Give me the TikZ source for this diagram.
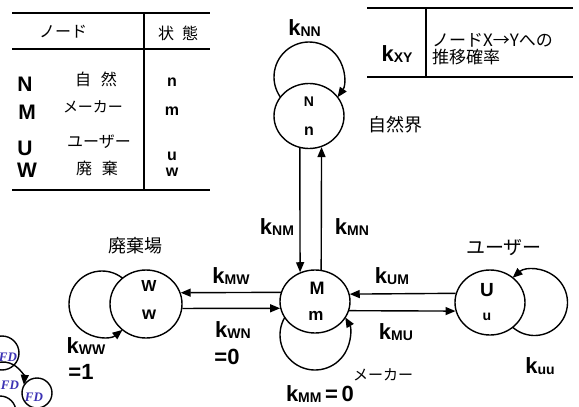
\documentclass[tikz,border=0pt]{standalone}
\usepackage{fontspec}
\setmainfont{Liberation Sans}
\newfontfamily\jp{Noto Sans CJK JP}
\newfontfamily\fdf{Liberation Serif}
\usetikzlibrary{shapes.geometric,arrows.meta,calc}
\definecolor{fdblue}{RGB}{60,50,180}
\newcommand\ksub[1]{k\raisebox{-1.5pt}{\fontsize{14}{14}\selectfont\bfseries #1}}
\begin{document}
\begin{tikzpicture}[x=1pt,y=-1pt,
  nd/.style={ellipse,draw,line width=1.4pt,fill=white,inner sep=0pt,minimum width=70pt,minimum height=64pt},
  arr/.style={line width=1.4pt,-{Triangle[length=10pt,width=8pt]}},
  ln/.style={line width=1.4pt},
  tl/.style={line width=1.6pt},
  kl/.style={inner sep=0pt,font=\fontsize{22}{22}\selectfont\bfseries},
  jt/.style={inner sep=0pt,font=\jp\fontsize{#1}{#1}\selectfont},
  jt/.default=17,
  tb/.style={inner sep=0pt,font=\fontsize{#1}{#1}\selectfont\bfseries},
  tb/.default=17,
  fd/.style={inner sep=0pt,text=fdblue,font=\fdf\bfseries\itshape\fontsize{13}{13}\selectfont}
]
\useasboundingbox (0,0) rectangle (579,407);

% ---------- table (top left) ----------
\draw[tl] (12,13) -- (210,13);
\draw[tl] (12,49) -- (210,49);
\draw[tl] (12,190) -- (210,190);
\draw[tl] (144,13) -- (144,190);
\node[jt=16] (h1) at (63,32) {ノード};
\node[jt=16] (h2) at (178,33) {状\hspace{0.5em}態};
\node[tb=21] (rN) at (25,84) {N};
\node[tb=21] (rM) at (27,112) {M};
\node[tb=21] (rU) at (25,148) {U};
\node[tb=21] (rW) at (27,170) {W};
\node[jt=16] (jN) at (96,79) {自\hspace{0.6em}然};
\node[jt=15] (jM) at (93,107) {メーカー};
\node[jt=16] (jU) at (99,142) {ユーザー};
\node[jt=16] (jW) at (97,168) {廃\hspace{0.6em}棄};
\node[tb=16] (sn) at (172,82) {n};
\node[tb=16] (sm) at (172,111) {m};
\node[tb=16] (su) at (172,156) {u};
\node[tb=16] (sw) at (172,172) {w};

% ---------- legend box (top right) ----------
\draw[tl] (367,8) -- (573,8);
\draw[tl] (367,77) -- (573,77);
\draw[tl] (426,8) -- (426,77);
\node[kl] (kxy) at (397,54) {\ksub{XY}};
\node[jt=17,anchor=west] (lg1) at (432,40) {ノードX→Yへの};
\node[jt=17,anchor=west] (lg2) at (432,57) {推移確率};

% ---------- nodes ----------
\node[nd,minimum width=70pt,minimum height=65pt] (N) at (309,116) {};
\node[nd,minimum width=70pt,minimum height=63pt] (M) at (315,301.5) {};
\node[nd,minimum width=70pt,minimum height=65pt] (U) at (490,302.5) {};
\node[nd,minimum width=72pt,minimum height=68pt] (W) at (146,304) {};

\node[tb=14] (Nt) at (309,102) {N};
\node[tb=16] (Nb) at (309,131.5) {n};
\node[tb=18] (Mt) at (317,288) {M};
\node[tb=17] (Mb) at (316,316) {m};
\node[tb=19] (Ut) at (487,290) {U};
\node[tb=14] (Ub) at (487,317) {u};
\node[tb=16] (Wt) at (149,286) {W};
\node[tb=18] (Wb) at (149,315) {w};

% ---------- self loops ----------
\coordinate (NL) at (309,77);
\coordinate (ML) at (315,335);
\coordinate (UL) at (534.5,302.5);
\coordinate (WL) at (102,304);
\draw[arr] ($(NL)+(215.4:35pt)$) arc[start angle=215.4,end angle=-35.4,radius=35pt];
\draw[arr] ($(ML)+(149.7:35pt)$) arc[start angle=149.7,end angle=390.3,radius=35pt];
\draw[arr] ($(UL)+(-131.5:33pt)$) arc[start angle=-131.5,end angle=131.5,radius=33pt];
\draw[arr] ($(WL)+(51.6:33pt)$) arc[start angle=51.6,end angle=308.4,radius=33pt];

% ---------- transitions ----------
\draw[arr] (N.254) -- (M.117.8);
\draw[arr] (M.79.06) -- (N.-68.5);
\draw[arr] (M.165) -- (W.18.7);
\draw[arr] (W.-7.2) -- (M.191.6);
\draw[arr] (U.165.9) -- (M.12.4);
\draw[arr] (M.-15.9) -- (U.194.1);

% ---------- labels ----------
\node[kl] (kNN) at (304.5,28) {\ksub{NN}};
\node[kl] (kNM) at (277,227) {\ksub{NM}};
\node[kl] (kMN) at (352,227) {\ksub{MN}};
\node[kl] (kMW) at (231,276) {\ksub{MW}};
\node[kl] (kWN) at (233,330) {\ksub{WN}};
\node[kl] (kWN0) at (227,357) {=0};
\node[kl] (kUM) at (392,276) {\ksub{UM}};
\node[kl] (kMU) at (396,332) {\ksub{MU}};
\node[kl] (kMM) at (320,394) {\ksub{MM}\,=\,0};
\node[kl] (kuu) at (540,366) {\ksub{uu}};
\node[kl] (kWW) at (86,346) {\ksub{WW}};
\node[kl] (kWW1) at (81,372) {=1};

\node[jt=18] (tN) at (395,125) {自然界};
\node[jt=18] (tW) at (135,246) {廃棄場};
\node[jt=19] (tU) at (504,248) {ユーザー};
\node[jt=15] (tM) at (383,375) {メーカー};

% ---------- small fragment (bottom left) ----------
\draw[ln] (2,353) circle[radius=17pt];
\draw[arr] ($(3,383)+(150:21pt)$) arc[start angle=150,end angle=-5,radius=21pt];
\draw[ln] (37,393) circle[radius=15pt];
\draw[ln] (0,412) circle[radius=16pt];
\node[fd] (fd1) at (8,357) {FD};
\node[fd] (fd2) at (10,385) {FD};
\node[fd] (fd3) at (34,397) {FD};
\end{tikzpicture}
\end{document}
